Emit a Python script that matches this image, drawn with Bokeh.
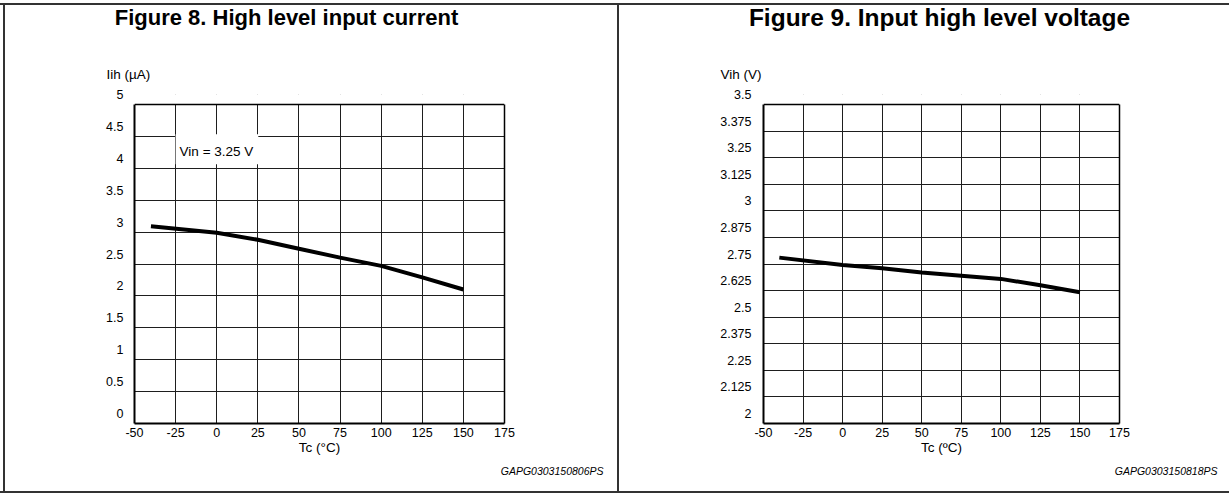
from bokeh.plotting import figure
from bokeh.models import (Range1d, FixedTicker, Label, LinearAxis, Span, BoxAnnotation,
                          Title, Div)
from bokeh.layouts import row, column
from bokeh.embed import file_html
from bokeh.resources import INLINE

# ---------------- data ----------------
x_ticks = [-50, -25, 0, 25, 50, 75, 100, 125, 150, 175]
x_labels = ["-50", "-25", "0", "25", "50", "75", "100", "125", "150", "175"]

tc_left = [-40, 0, 25, 50, 75, 100, 125, 150]
iih = [3.09, 2.99, 2.88, 2.74, 2.60, 2.47, 2.29, 2.10]
left_yticks = [0, 0.5, 1, 1.5, 2, 2.5, 3, 3.5, 4, 4.5, 5]
left_ylabels = ["0", "0.5", "1", "1.5", "2", "2.5", "3", "3.5", "4", "4.5", "5"]

tc_right = [-40, 0, 25, 50, 75, 100, 125, 150]
vih = [2.78, 2.745, 2.73, 2.71, 2.695, 2.68, 2.65, 2.617]
right_yticks = [2, 2.125, 2.25, 2.375, 2.5, 2.625, 2.75, 2.875, 3, 3.125, 3.25, 3.375, 3.5]
right_ylabels = ["2", "2.125", "2.25", "2.375", "2.5", "2.625", "2.75", "2.875",
                 "3", "3.125", "3.25", "3.375", "3.5"]

FONT = "Liberation Sans"
BORDER = "#333333"
ROW_H = 486          # height of the bordered cells
TITLE_H = 43         # height of the title strip
FIG_H = ROW_H - TITLE_H
BOX_PX = 319         # height of the plotted box in px
LIFT = 10            # y tick labels sit this many px above their grid line


def make_panel(width, mb_left, mb_right, y_start, y_end, yticks, ylabels,
               tc, vals, ytitle, xtitle, code, ytitle_dx, code_dx, ylab_standoff):
    d = (y_end - y_start) * LIFT / BOX_PX
    p = figure(width=width, height=FIG_H, output_backend="svg", toolbar_location=None,
               x_range=Range1d(-50, 175), y_range=Range1d(y_start, y_end + d),
               min_border_left=mb_left, min_border_right=mb_right,
               min_border_top=46, min_border_bottom=68,
               background_fill_color="white", border_fill_color="white")
    p.outline_line_color = None

    # x axis
    xa = p.xaxis[0]
    xa.ticker = FixedTicker(ticks=x_ticks)
    xa.major_label_overrides = dict(zip(x_ticks, x_labels))
    xa.axis_line_width = 2
    xa.axis_line_color = "black"
    xa.major_tick_in = 0
    xa.major_tick_out = 0
    xa.minor_tick_in = 0
    xa.minor_tick_out = 0
    xa.major_label_text_font = FONT
    xa.major_label_text_color = "black"
    xa.major_label_text_font_size = "12.5px"
    xa.major_label_standoff = 4
    xa.axis_label = xtitle
    xa.axis_label_text_font = FONT
    xa.axis_label_text_font_style = "normal"
    xa.axis_label_text_font_size = "13.5px"
    xa.axis_label_text_color = "black"
    xa.axis_label_standoff = 0

    # main y axis: only the line, limited to the plotted box
    ya = p.yaxis[0]
    ya.ticker = FixedTicker(ticks=[])
    ya.bounds = (y_start, y_end)
    ya.axis_line_width = 2
    ya.axis_line_color = "black"
    ya.major_tick_in = 0
    ya.major_tick_out = 0
    ya.minor_tick_in = 0
    ya.minor_tick_out = 0

    # label axis on a shifted range: labels float LIFT px above their lines
    p.extra_y_ranges = {"lab": Range1d(y_start - d, y_end)}
    la = LinearAxis(y_range_name="lab", ticker=FixedTicker(ticks=yticks),
                    major_label_overrides=dict(zip(yticks, ylabels)),
                    axis_line_color=None, major_tick_in=0, major_tick_out=0,
                    minor_tick_in=0, minor_tick_out=0,
                    major_label_standoff=ylab_standoff,
                    major_label_text_font=FONT, major_label_text_color="black",
                    major_label_text_font_size="12.5px")
    p.add_layout(la, "left")

    # right border
    p.add_layout(LinearAxis(ticker=FixedTicker(ticks=[]), bounds=(y_start, y_end),
                            axis_line_width=1.5, axis_line_color="black",
                            major_tick_in=0, major_tick_out=0,
                            minor_tick_in=0, minor_tick_out=0), "right")

    # grid
    p.xgrid.ticker = FixedTicker(ticks=x_ticks)
    p.ygrid.ticker = FixedTicker(ticks=yticks)
    for g in (p.xgrid[0], p.ygrid[0]):
        g.grid_line_color = "#1e1e1e"
        g.grid_line_width = 1

    p.line(tc, vals, line_width=4, line_color="black")

    # blank strip above the box (reaching past the frame), then the top border
    p.add_layout(BoxAnnotation(bottom=y_end, top=y_end + 4 * d, left=-60, right=185,
                               fill_color="white", fill_alpha=1, line_color=None))
    p.add_layout(Span(location=y_end, dimension="width", line_color="black",
                      line_width=1.5))

    # y axis title (above the box, left aligned)
    p.title.text = ytitle
    p.title.align = "left"
    p.title.offset = ytitle_dx
    p.title.standoff = 26
    p.title.text_font = FONT
    p.title.text_font_size = "13.5px"
    p.title.text_font_style = "normal"
    p.title.text_color = "black"

    # figure code (below, right aligned)
    p.add_layout(Title(text=code, align="right", offset=code_dx, standoff=10,
                       text_font=FONT, text_font_size="10.5px",
                       text_font_style="italic", text_color="black"), "below")
    return p


p1 = make_panel(612, 129, 113, 0, 5, left_yticks, left_ylabels, tc_left, iih,
                "Iih (µA)", "Tc (°C)", "GAPG0303150806PS", -28, -99, 11)
p1.add_layout(Label(x=-25, y=4.30, text="Vin = 3.25 V", text_align="left",
                    text_baseline="middle", text_font=FONT, text_font_size="13.5px",
                    text_color="black", background_fill_color="white",
                    padding=(4, 5, 10, 5)))

p2 = make_panel(610, 144, 110, 2, 3.5, right_yticks, right_ylabels, tc_right, vih,
                "Vih (V)", "Tc (ºC)", "GAPG0303150818PS", -43, -98, 12)


def title_div(text, width, margin_left, box_w, size):
    html = ('<div style="margin-left:%dpx; width:%dpx; text-align:center; '
            'white-space:nowrap; font-family:\'Liberation Sans\', Arial, sans-serif; '
            'font-weight:bold; font-size:%spx; line-height:26px; color:black;">%s</div>'
            % (margin_left, box_w, size, text))
    return Div(text=html, width=width, height=TITLE_H, margin=0)


def line_div(w, h, color=BORDER):
    return Div(text="", width=w, height=h, margin=0,
               styles={"background-color": color})


t1 = title_div("Figure 8. High level input current", 612, 0, 563, 22)
t2 = title_div("Figure 9. Input high level voltage", 610, 31, 579, 24.5)

body = row(
    line_div(3, ROW_H, "white"),
    line_div(2, ROW_H),
    column(t1, p1, spacing=0),
    line_div(2, ROW_H),
    column(t2, p2, spacing=0),
    spacing=0,
)
layout = column(
    line_div(1229, 3, "white"),
    line_div(1229, 2),
    body,
    line_div(1229, 2),
    spacing=0,
)

open("out.html", "w").write(file_html(layout, INLINE))
